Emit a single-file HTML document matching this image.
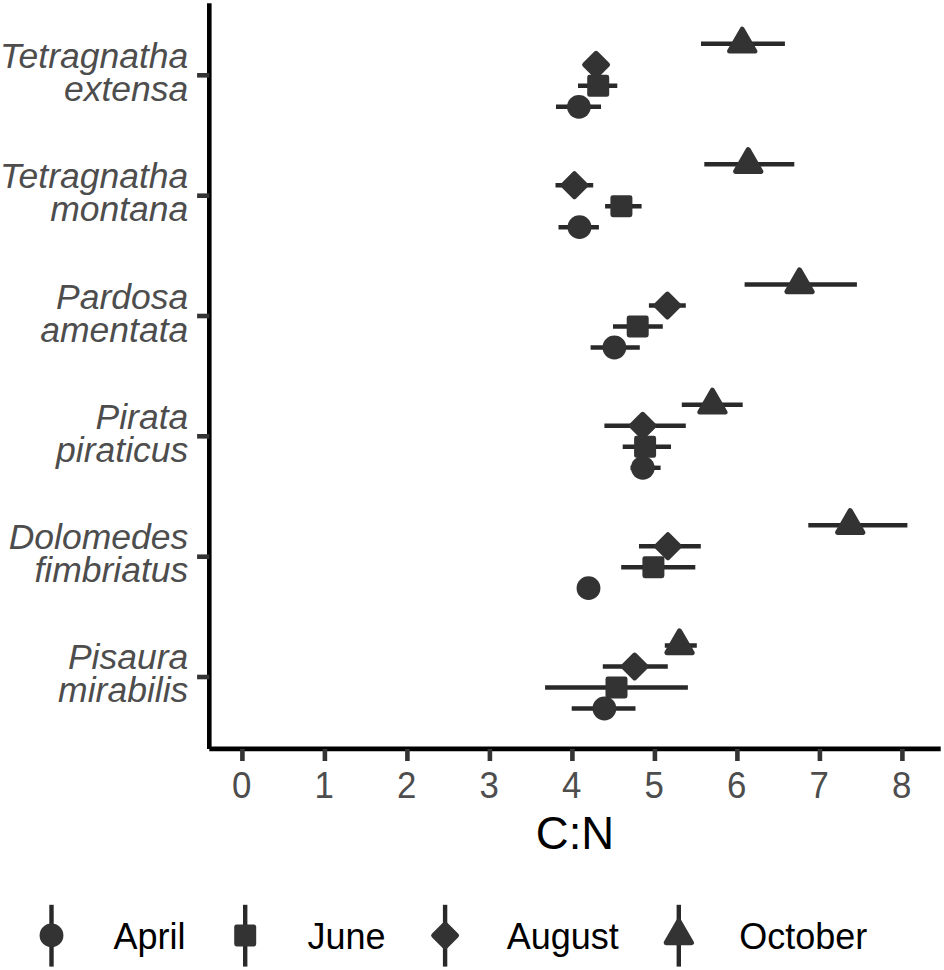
<!DOCTYPE html>
<html><head><meta charset="utf-8"><style>
html,body{margin:0;padding:0;background:#fff;}
body{width:944px;height:970px;overflow:hidden;}
svg{display:block;}
text{font-family:"Liberation Sans",sans-serif;}
.tl{font-size:36.5px;fill:#4d4d4d;}
.yl{font-size:35.5px;font-style:italic;fill:#4d4d4d;}
.ti{font-size:45.5px;fill:#000;}
.lg{font-size:36px;fill:#000;}
</style></head><body>
<svg width="944" height="970" viewBox="0 0 944 970">
<rect width="944" height="970" fill="#fff"/>
<line x1="209.3" y1="3.2" x2="209.3" y2="748.9" stroke="#000" stroke-width="4.6"/>
<line x1="209.3" y1="748.9" x2="940.7" y2="748.9" stroke="#000" stroke-width="4.6"/>
<line x1="197.1" y1="75.3" x2="209.3" y2="75.3" stroke="#333" stroke-width="4.6"/>
<line x1="197.1" y1="195.7" x2="209.3" y2="195.7" stroke="#333" stroke-width="4.6"/>
<line x1="197.1" y1="316.0" x2="209.3" y2="316.0" stroke="#333" stroke-width="4.6"/>
<line x1="197.1" y1="436.3" x2="209.3" y2="436.3" stroke="#333" stroke-width="4.6"/>
<line x1="197.1" y1="556.7" x2="209.3" y2="556.7" stroke="#333" stroke-width="4.6"/>
<line x1="197.1" y1="677.0" x2="209.3" y2="677.0" stroke="#333" stroke-width="4.6"/>
<line x1="242.40" y1="748.9" x2="242.40" y2="761" stroke="#333" stroke-width="4.6"/>
<line x1="324.90" y1="748.9" x2="324.90" y2="761" stroke="#333" stroke-width="4.6"/>
<line x1="407.40" y1="748.9" x2="407.40" y2="761" stroke="#333" stroke-width="4.6"/>
<line x1="489.90" y1="748.9" x2="489.90" y2="761" stroke="#333" stroke-width="4.6"/>
<line x1="572.40" y1="748.9" x2="572.40" y2="761" stroke="#333" stroke-width="4.6"/>
<line x1="654.90" y1="748.9" x2="654.90" y2="761" stroke="#333" stroke-width="4.6"/>
<line x1="737.40" y1="748.9" x2="737.40" y2="761" stroke="#333" stroke-width="4.6"/>
<line x1="819.90" y1="748.9" x2="819.90" y2="761" stroke="#333" stroke-width="4.6"/>
<line x1="902.40" y1="748.9" x2="902.40" y2="761" stroke="#333" stroke-width="4.6"/>
<text transform="translate(241.80,798) scale(0.955,1)" text-anchor="middle" class="tl">0</text>
<text transform="translate(324.30,798) scale(0.955,1)" text-anchor="middle" class="tl">1</text>
<text transform="translate(406.80,798) scale(0.955,1)" text-anchor="middle" class="tl">2</text>
<text transform="translate(489.30,798) scale(0.955,1)" text-anchor="middle" class="tl">3</text>
<text transform="translate(571.80,798) scale(0.955,1)" text-anchor="middle" class="tl">4</text>
<text transform="translate(654.30,798) scale(0.955,1)" text-anchor="middle" class="tl">5</text>
<text transform="translate(736.80,798) scale(0.955,1)" text-anchor="middle" class="tl">6</text>
<text transform="translate(819.30,798) scale(0.955,1)" text-anchor="middle" class="tl">7</text>
<text transform="translate(901.80,798) scale(0.955,1)" text-anchor="middle" class="tl">8</text>
<text x="575" y="848.5" text-anchor="middle" class="ti">C:N</text>
<text x="188.3" y="68.1" text-anchor="end" class="yl">Tetragnatha</text>
<text x="188.3" y="101.1" text-anchor="end" class="yl">extensa</text>
<text x="188.3" y="188.2" text-anchor="end" class="yl">Tetragnatha</text>
<text x="188.3" y="221.2" text-anchor="end" class="yl">montana</text>
<text x="188.3" y="308.8" text-anchor="end" class="yl">Pardosa</text>
<text x="188.3" y="341.8" text-anchor="end" class="yl">amentata</text>
<text x="188.3" y="429.3" text-anchor="end" class="yl">Pirata</text>
<text x="188.3" y="462.3" text-anchor="end" class="yl">piraticus</text>
<text x="188.3" y="548.7" text-anchor="end" class="yl">Dolomedes</text>
<text x="188.3" y="581.7" text-anchor="end" class="yl">fimbriatus</text>
<text x="188.3" y="669.4" text-anchor="end" class="yl">Pisaura</text>
<text x="188.3" y="702.4" text-anchor="end" class="yl">mirabilis</text>
<line x1="701" y1="43.80" x2="784.9" y2="43.80" stroke="#292929" stroke-width="4.4"/>
<line x1="590" y1="64.80" x2="602" y2="64.80" stroke="#292929" stroke-width="4.4"/>
<line x1="578.0" y1="85.80" x2="617.3" y2="85.80" stroke="#292929" stroke-width="4.4"/>
<line x1="556.0" y1="106.80" x2="601.0" y2="106.80" stroke="#292929" stroke-width="4.4"/>
<line x1="704.3" y1="164.20" x2="794.3" y2="164.20" stroke="#292929" stroke-width="4.4"/>
<line x1="555.5" y1="185.20" x2="593.2" y2="185.20" stroke="#292929" stroke-width="4.4"/>
<line x1="605.1" y1="206.20" x2="641.6" y2="206.20" stroke="#292929" stroke-width="4.4"/>
<line x1="558.5" y1="227.20" x2="598.9" y2="227.20" stroke="#292929" stroke-width="4.4"/>
<line x1="744.6" y1="284.50" x2="856.9" y2="284.50" stroke="#292929" stroke-width="4.4"/>
<line x1="648.9" y1="305.50" x2="685.8" y2="305.50" stroke="#292929" stroke-width="4.4"/>
<line x1="613.0" y1="326.50" x2="662.8" y2="326.50" stroke="#292929" stroke-width="4.4"/>
<line x1="590.6" y1="347.50" x2="639.8" y2="347.50" stroke="#292929" stroke-width="4.4"/>
<line x1="681.8" y1="404.80" x2="742.7" y2="404.80" stroke="#292929" stroke-width="4.4"/>
<line x1="604.4" y1="425.80" x2="685.8" y2="425.80" stroke="#292929" stroke-width="4.4"/>
<line x1="622.7" y1="446.80" x2="671.0" y2="446.80" stroke="#292929" stroke-width="4.4"/>
<line x1="630.5" y1="467.80" x2="660.6" y2="467.80" stroke="#292929" stroke-width="4.4"/>
<line x1="808.3" y1="525.20" x2="907.4" y2="525.20" stroke="#292929" stroke-width="4.4"/>
<line x1="639.0" y1="546.20" x2="700.8" y2="546.20" stroke="#292929" stroke-width="4.4"/>
<line x1="621.2" y1="567.20" x2="695.3" y2="567.20" stroke="#292929" stroke-width="4.4"/>
<line x1="664.8" y1="645.50" x2="696.8" y2="645.50" stroke="#292929" stroke-width="4.4"/>
<line x1="602.8" y1="666.50" x2="667.8" y2="666.50" stroke="#292929" stroke-width="4.4"/>
<line x1="545.1" y1="687.50" x2="687.9" y2="687.50" stroke="#292929" stroke-width="4.4"/>
<line x1="571.7" y1="708.50" x2="635.5" y2="708.50" stroke="#292929" stroke-width="4.4"/>
<path d="M742.20,29.13 L754.90,51.13 L729.50,51.13Z" fill="#333333" stroke="#333333" stroke-width="4.9" stroke-linejoin="round"/>
<path d="M596.10,53.30 L607.60,64.80 L596.10,76.30 L584.60,64.80Z" fill="#333333" stroke="#333333" stroke-width="4.9" stroke-linejoin="round"/>
<rect x="589.60" y="77.20" width="17.20" height="17.20" fill="#333333" stroke="#333333" stroke-width="4.8" stroke-linejoin="round"/>
<circle cx="578.90" cy="106.80" r="11.9" fill="#333333"/>
<path d="M748.20,149.53 L760.90,171.53 L735.50,171.53Z" fill="#333333" stroke="#333333" stroke-width="4.9" stroke-linejoin="round"/>
<path d="M574.40,173.70 L585.90,185.20 L574.40,196.70 L562.90,185.20Z" fill="#333333" stroke="#333333" stroke-width="4.9" stroke-linejoin="round"/>
<rect x="612.80" y="197.60" width="17.20" height="17.20" fill="#333333" stroke="#333333" stroke-width="4.8" stroke-linejoin="round"/>
<circle cx="579.50" cy="227.20" r="11.9" fill="#333333"/>
<path d="M799.50,269.83 L812.20,291.83 L786.80,291.83Z" fill="#333333" stroke="#333333" stroke-width="4.9" stroke-linejoin="round"/>
<path d="M667.40,294.00 L678.90,305.50 L667.40,317.00 L655.90,305.50Z" fill="#333333" stroke="#333333" stroke-width="4.9" stroke-linejoin="round"/>
<rect x="629.10" y="317.90" width="17.20" height="17.20" fill="#333333" stroke="#333333" stroke-width="4.8" stroke-linejoin="round"/>
<circle cx="614.40" cy="347.50" r="11.9" fill="#333333"/>
<path d="M712.40,390.13 L725.10,412.13 L699.70,412.13Z" fill="#333333" stroke="#333333" stroke-width="4.9" stroke-linejoin="round"/>
<path d="M642.70,414.30 L654.20,425.80 L642.70,437.30 L631.20,425.80Z" fill="#333333" stroke="#333333" stroke-width="4.9" stroke-linejoin="round"/>
<rect x="636.50" y="438.20" width="17.20" height="17.20" fill="#333333" stroke="#333333" stroke-width="4.8" stroke-linejoin="round"/>
<circle cx="642.80" cy="467.80" r="11.9" fill="#333333"/>
<path d="M850.20,510.53 L862.90,532.53 L837.50,532.53Z" fill="#333333" stroke="#333333" stroke-width="4.9" stroke-linejoin="round"/>
<path d="M667.90,534.70 L679.40,546.20 L667.90,557.70 L656.40,546.20Z" fill="#333333" stroke="#333333" stroke-width="4.9" stroke-linejoin="round"/>
<rect x="644.80" y="558.60" width="17.20" height="17.20" fill="#333333" stroke="#333333" stroke-width="4.8" stroke-linejoin="round"/>
<circle cx="588.50" cy="588.20" r="11.9" fill="#333333"/>
<path d="M679.50,630.83 L692.20,652.83 L666.80,652.83Z" fill="#333333" stroke="#333333" stroke-width="4.9" stroke-linejoin="round"/>
<path d="M634.60,655.00 L646.10,666.50 L634.60,678.00 L623.10,666.50Z" fill="#333333" stroke="#333333" stroke-width="4.9" stroke-linejoin="round"/>
<rect x="607.90" y="678.90" width="17.20" height="17.20" fill="#333333" stroke="#333333" stroke-width="4.8" stroke-linejoin="round"/>
<circle cx="604.40" cy="708.50" r="11.9" fill="#333333"/>
<line x1="51.5" y1="904.8" x2="51.5" y2="966.6" stroke="#292929" stroke-width="4.4"/>
<circle cx="51.50" cy="935.40" r="11.9" fill="#333333"/>
<text x="113.5" y="948.7" class="lg">April</text>
<line x1="245.2" y1="904.8" x2="245.2" y2="966.6" stroke="#292929" stroke-width="4.4"/>
<rect x="236.60" y="926.80" width="17.20" height="17.20" fill="#333333" stroke="#333333" stroke-width="4.8" stroke-linejoin="round"/>
<text x="307.4" y="948.7" class="lg">June</text>
<line x1="445.1" y1="904.8" x2="445.1" y2="966.6" stroke="#292929" stroke-width="4.4"/>
<path d="M445.10,923.90 L456.60,935.40 L445.10,946.90 L433.60,935.40Z" fill="#333333" stroke="#333333" stroke-width="4.9" stroke-linejoin="round"/>
<text x="506.8" y="948.7" class="lg">August</text>
<line x1="678.8" y1="904.8" x2="678.8" y2="966.6" stroke="#292929" stroke-width="4.4"/>
<path d="M678.80,920.73 L691.50,942.73 L666.10,942.73Z" fill="#333333" stroke="#333333" stroke-width="4.9" stroke-linejoin="round"/>
<text x="739.3000000000001" y="948.7" class="lg">October</text>
</svg>
</body></html>
